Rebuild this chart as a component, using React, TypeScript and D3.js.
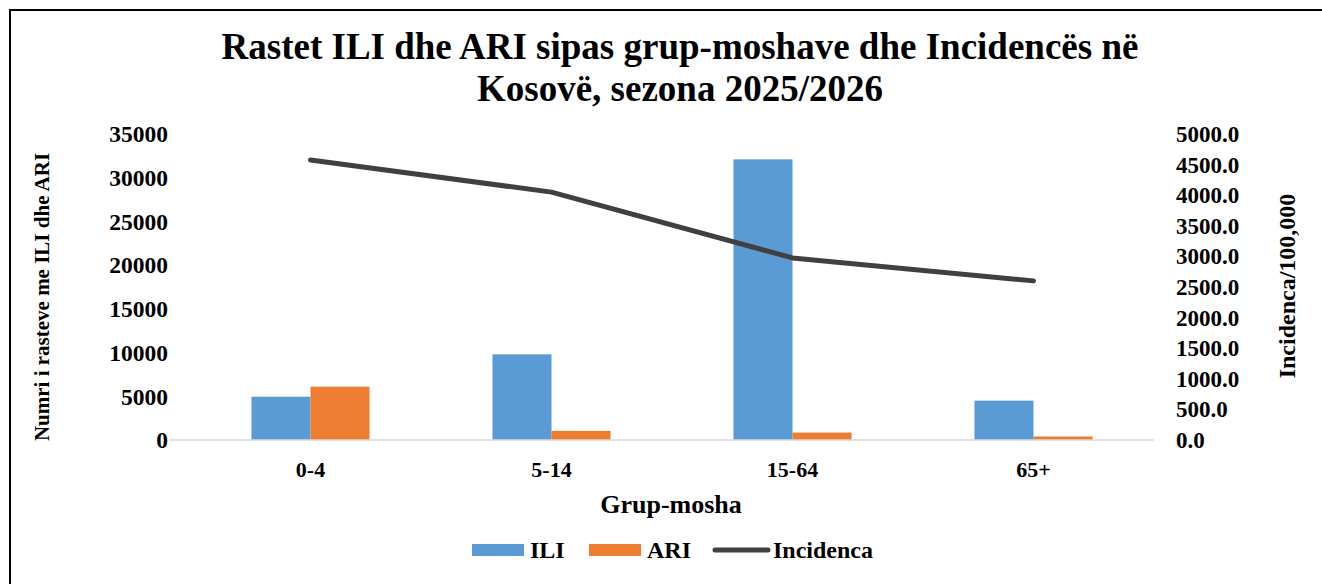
import React from "react";
import * as d3 from "d3";

const categories = ["0-4", "5-14", "15-64", "65+"];
const iliValues = [4950, 9800, 32100, 4500];
const ariValues = [6100, 1050, 850, 400];
const incidence = [4575, 4050, 2975, 2600];
const leftTicks = [0, 5000, 10000, 15000, 20000, 25000, 30000, 35000];
const rightTicks = [0, 500, 1000, 1500, 2000, 2500, 3000, 3500, 4000, 4500, 5000];
const seriesNames = ["ILI", "ARI"];
const seriesColors = ["#5B9BD5", "#ED7D31"];
const lineColor = "#404040";

const font = "'Liberation Serif', 'Times New Roman', serif";

export default function App() {
    const width = 1322;
    const height = 584;
    const dims = { left: 190, right: 1154, top: 134, bottom: 440 };

    /** scales */
    const xScale = d3.scaleBand<string>()
        .domain(categories)
        .range([dims.left, dims.right])
        .paddingInner(0.51)
        .paddingOuter(0.255);
    const subScale = d3.scaleBand<string>()
        .domain(seriesNames)
        .range([0, xScale.bandwidth()]);
    const yLeft = d3.scaleLinear().domain([0, 35000]).range([dims.bottom, dims.top]);
    const yRight = d3.scaleLinear().domain([0, 5000]).range([dims.bottom, dims.top]);

    const lineGen = d3.line<number>()
        .x((d, i) => (xScale(categories[i]) as number) + xScale.bandwidth() / 2)
        .y(d => yRight(d));

    const seriesData = [iliValues, ariValues];

    return (
        <svg width={width} height={height}
             style={{ position: "absolute", left: 0, top: 0, background: "#fff" }}
             fontFamily={font} fontWeight="bold">
            <rect x={10} y={10} width={1330} height={600} fill="#fff" stroke="#000" strokeWidth={2} />

            {/* title */}
            <text x={680} y={59} textAnchor="middle" fontSize={37}>
                Rastet ILI dhe ARI sipas grup-moshave dhe Incidencës në
            </text>
            <text x={680} y={101} textAnchor="middle" fontSize={37}>
                Kosovë, sezona 2025/2026
            </text>

            {/* bars */}
            {seriesData.map((vals, s) => (
                <g key={seriesNames[s]}>
                    {vals.map((v, i) => (
                        <rect key={i}
                              x={(xScale(categories[i]) as number) + (subScale(seriesNames[s]) as number)}
                              y={yLeft(v)}
                              width={subScale.bandwidth()}
                              height={yLeft(0) - yLeft(v)}
                              fill={seriesColors[s]} />
                    ))}
                </g>
            ))}

            {/* baseline */}
            <line x1={dims.left - 20} x2={dims.right} y1={dims.bottom} y2={dims.bottom}
                  stroke="#d9d9d9" strokeWidth={1.5} />

            {/* incidence line */}
            <path d={lineGen(incidence) || ""} fill="none" stroke={lineColor}
                  strokeWidth={5} strokeLinecap="round" strokeLinejoin="round" />

            {/* left axis */}
            {leftTicks.map(t => (
                <text key={t} x={168} y={yLeft(t)} dy="0.35em" textAnchor="end" fontSize={23.5}>{t}</text>
            ))}
            {/* right axis */}
            {rightTicks.map(t => (
                <text key={t} x={1176} y={yRight(t)} dy="0.35em" textAnchor="start" fontSize={23}>
                    {d3.format(".1f")(t)}
                </text>
            ))}

            {/* category labels */}
            {categories.map(c => (
                <text key={c} x={(xScale(c) as number) + xScale.bandwidth() / 2} y={477}
                      textAnchor="middle" fontSize={22}>{c}</text>
            ))}

            {/* axis titles */}
            <text x={671} y={513} textAnchor="middle" fontSize={26}>Grup-mosha</text>
            <text transform="translate(49,297) rotate(-90)" textAnchor="middle" fontSize={21}>
                Numri i rasteve me ILI dhe ARI
            </text>
            <text transform="translate(1295,286) rotate(-90)" textAnchor="middle" fontSize={24}>
                Incidenca/100,000
            </text>

            {/* legend */}
            <rect x={472} y={544} width={52} height={12} fill={seriesColors[0]} />
            <text x={530} y={558} fontSize={24}>ILI</text>
            <rect x={589} y={544} width={52} height={12} fill={seriesColors[1]} />
            <text x={647} y={558} fontSize={24}>ARI</text>
            <line x1={715} x2={768} y1={550} y2={550} stroke={lineColor} strokeWidth={5} strokeLinecap="round" />
            <text x={773} y={558} fontSize={24}>Incidenca</text>
        </svg>
    );
}
